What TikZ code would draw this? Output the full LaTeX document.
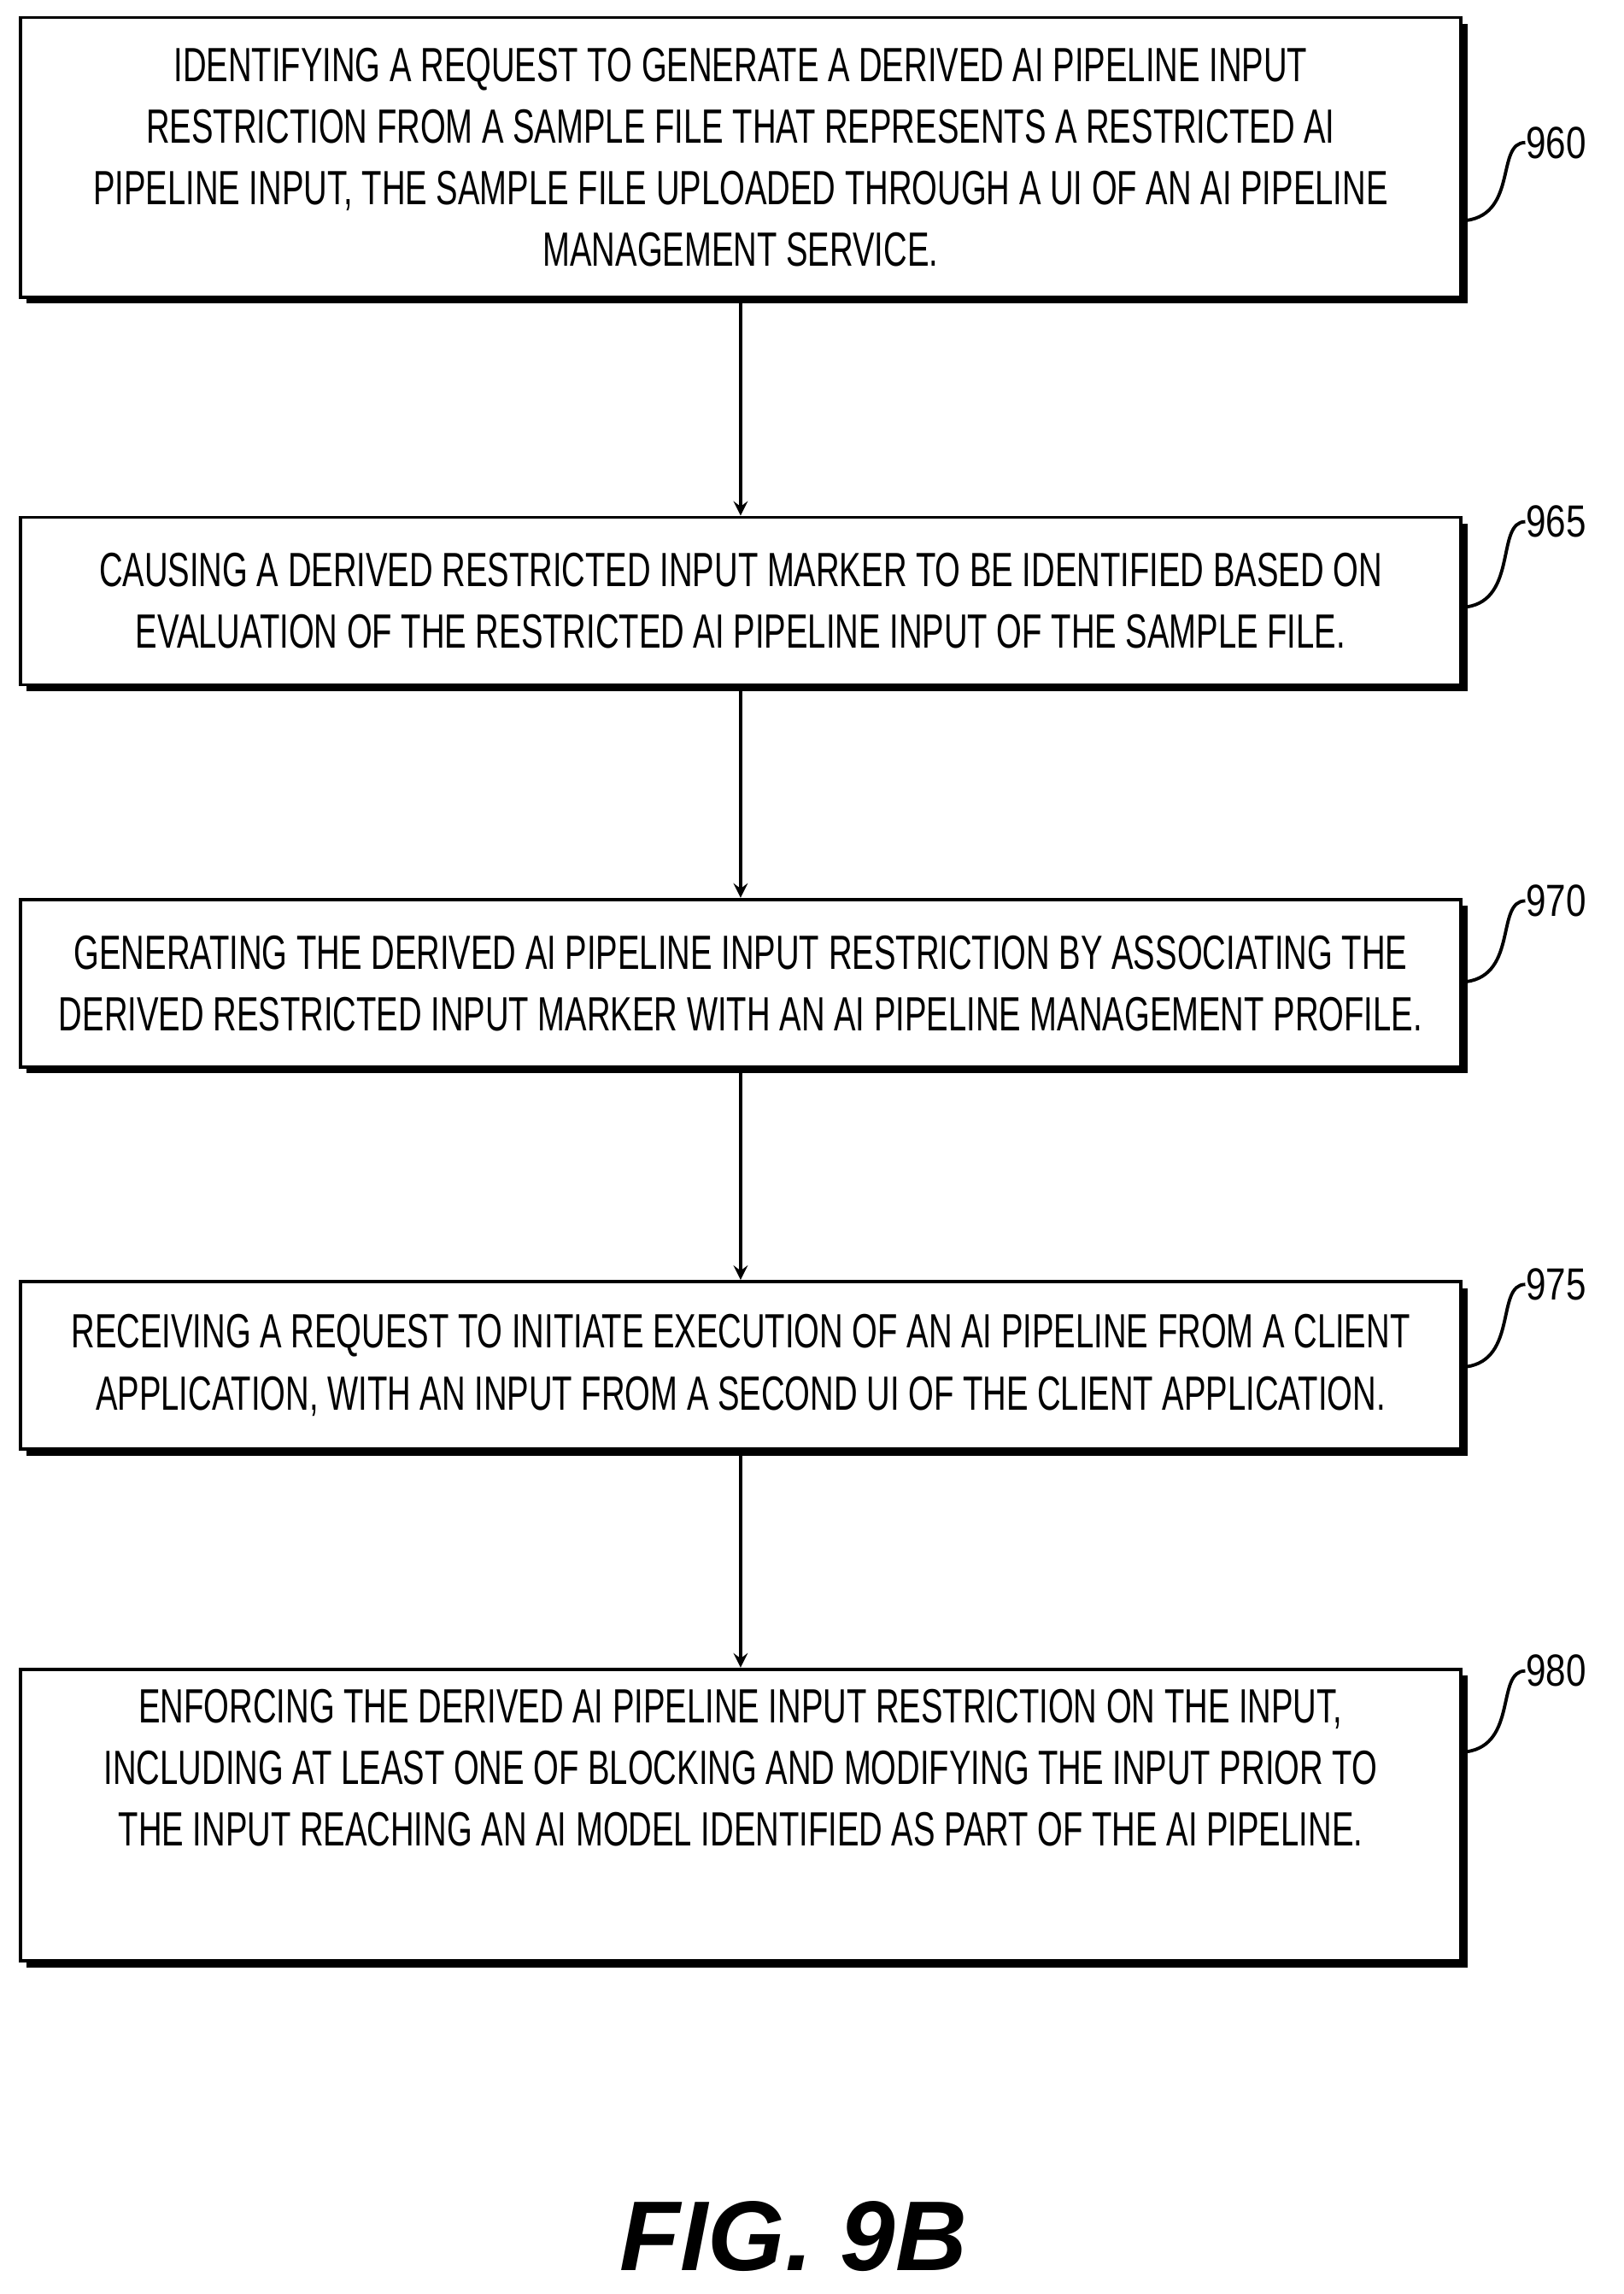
\documentclass[tikz,border=0pt]{standalone}
\usepackage{fontspec}
\setmainfont{Liberation Sans}
\newfontfamily\condfont[FakeStretch=0.68]{Liberation Sans}
\newfontfamily\numfont[FakeStretch=0.8]{Liberation Sans}
\usetikzlibrary{shadows}
\begin{document}
\begin{tikzpicture}[x=0.0172cm, y=-0.0172cm]
    \tikzset{ box/.style={draw=black, line width=1.1pt, fill=white, minimum width=16.86cm, inner sep=0pt, align=center,
                          font=\condfont\fontsize{16}{20.5}\selectfont,
                          drop shadow={shadow xshift=2.2pt, shadow yshift=-2.2pt, fill=black, opacity=1}} }
    \tikzset{ ref/.style={font=\numfont\fontsize{15}{18}\selectfont, anchor=west, inner sep=0pt} }
    \tikzset{ lead/.style={line width=1.1pt} }

    \useasboundingbox (0,0) rectangle (1105,1561);

    \node[box, minimum height=3.27cm] (b1) at (504,107) {IDENTIFYING A REQUEST TO GENERATE A DERIVED AI PIPELINE INPUT\\RESTRICTION FROM A SAMPLE FILE THAT REPRESENTS A RESTRICTED AI\\PIPELINE INPUT, THE SAMPLE FILE UPLOADED THROUGH A UI OF AN AI PIPELINE\\MANAGEMENT SERVICE.};
    \node[box, minimum height=1.96cm] (b2) at (504,409) {CAUSING A DERIVED RESTRICTED INPUT MARKER TO BE IDENTIFIED BASED ON\\EVALUATION OF THE RESTRICTED AI PIPELINE INPUT OF THE SAMPLE FILE.};
    \node[box, minimum height=1.96cm] (b3) at (504,669) {GENERATING THE DERIVED AI PIPELINE INPUT RESTRICTION BY ASSOCIATING THE\\DERIVED RESTRICTED INPUT MARKER WITH AN AI PIPELINE MANAGEMENT PROFILE.};
    \node[box, minimum height=1.96cm] (b4) at (504,929) {RECEIVING A REQUEST TO INITIATE EXECUTION OF AN AI PIPELINE FROM A CLIENT\\APPLICATION, WITH AN INPUT FROM A SECOND UI OF THE CLIENT APPLICATION.};
    \node[box, minimum height=3.41cm, text depth=1.1cm] (b5) at (504,1235) {ENFORCING THE DERIVED AI PIPELINE INPUT RESTRICTION ON THE INPUT,\\INCLUDING AT LEAST ONE OF BLOCKING AND MODIFYING THE INPUT PRIOR TO\\THE INPUT REACHING AN AI MODEL IDENTIFIED AS PART OF THE AI PIPELINE.};

    \draw[->, >=stealth, line width=1.1pt] (b1.south) -- (b2.north);
    \draw[->, >=stealth, line width=1.1pt] (b2.south) -- (b3.north);
    \draw[->, >=stealth, line width=1.1pt] (b3.south) -- (b4.north);
    \draw[->, >=stealth, line width=1.1pt] (b4.south) -- (b5.north);

    % reference numerals
    \node[ref] (n960) at (1038,97)   {960};
    \node[ref] (n965) at (1038,355)  {965};
    \node[ref] (n970) at (1038,613)  {970};
    \node[ref] (n975) at (1038,874)  {975};
    \node[ref] (n980) at (1038,1137) {980};

    \coordinate (c960) at (998,150);
    \coordinate (c965) at (998,413);
    \coordinate (c970) at (998,668);
    \coordinate (c975) at (998,930);
    \coordinate (c980) at (998,1192);
    \draw[lead] (c960) .. controls (1033,145) and (1018,97) .. (n960.west);
    \draw[lead] (c965) .. controls (1033,408) and (1018,355) .. (n965.west);
    \draw[lead] (c970) .. controls (1033,663) and (1018,613) .. (n970.west);
    \draw[lead] (c975) .. controls (1033,925) and (1018,874) .. (n975.west);
    \draw[lead] (c980) .. controls (1033,1187) and (1018,1137) .. (n980.west);

    \node[font=\bfseries\itshape\fontsize{33}{38}\selectfont] (fig) at (540,1522) {FIG. 9B};
\end{tikzpicture}
\end{document}
